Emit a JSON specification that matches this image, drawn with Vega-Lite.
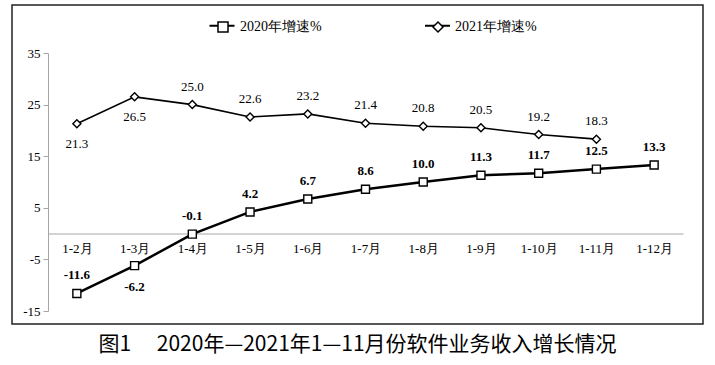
{
  "$schema": "https://vega.github.io/schema/vega-lite/v6.json",
  "width": 691,
  "height": 319,
  "padding": {"left": 12, "top": 5, "right": 5, "bottom": 2},
  "background": "white",
  "title": {"text": "图1　 2020年—2021年1—11月份软件业务收入增长情况", "orient": "bottom", "font": "Noto Sans CJK SC", "fontSize": 21, "fontWeight": "normal", "color": "#000", "offset": 10, "anchor": "middle"},
  "config": {
    "view": {"stroke": "#222", "strokeWidth": 1.5},
    "locale": {"number": {"decimal": ".", "thousands": ",", "grouping": [3], "currency": ["", ""], "minus": "-"}}
  },
  "data": {"values": [
    {"month": "1-2月", "series": "2020年增速%", "value": -11.6},
    {"month": "1-3月", "series": "2020年增速%", "value": -6.2},
    {"month": "1-4月", "series": "2020年增速%", "value": -0.1},
    {"month": "1-5月", "series": "2020年增速%", "value": 4.2},
    {"month": "1-6月", "series": "2020年增速%", "value": 6.7},
    {"month": "1-7月", "series": "2020年增速%", "value": 8.6},
    {"month": "1-8月", "series": "2020年增速%", "value": 10.0},
    {"month": "1-9月", "series": "2020年增速%", "value": 11.3},
    {"month": "1-10月", "series": "2020年增速%", "value": 11.7},
    {"month": "1-11月", "series": "2020年增速%", "value": 12.5},
    {"month": "1-12月", "series": "2020年增速%", "value": 13.3},
    {"month": "1-2月", "series": "2021年增速%", "value": 21.3},
    {"month": "1-3月", "series": "2021年增速%", "value": 26.5},
    {"month": "1-4月", "series": "2021年增速%", "value": 25.0},
    {"month": "1-5月", "series": "2021年增速%", "value": 22.6},
    {"month": "1-6月", "series": "2021年增速%", "value": 23.2},
    {"month": "1-7月", "series": "2021年增速%", "value": 21.4},
    {"month": "1-8月", "series": "2021年增速%", "value": 20.8},
    {"month": "1-9月", "series": "2021年增速%", "value": 20.5},
    {"month": "1-10月", "series": "2021年增速%", "value": 19.2},
    {"month": "1-11月", "series": "2021年增速%", "value": 18.3}
  ]},
  "encoding": {
    "x": {
      "field": "month", "type": "ordinal",
      "scale": {"type": "point", "domain": ["1-2月","1-3月","1-4月","1-5月","1-6月","1-7月","1-8月","1-9月","1-10月","1-11月","1-12月"], "range": [36, 671], "padding": 0.5},
      "axis": {"title": null, "orient": "bottom", "offset": -90.4, "ticks": false, "domainColor": "#c4c4c4", "domainWidth": 1.5, "labelFont": "Liberation Serif", "labelFontSize": 13, "labelColor": "#000", "labelPadding": 9, "labelAngle": 0}
    },
    "y": {
      "field": "value", "type": "quantitative",
      "scale": {"domain": [-15, 35], "range": [306, 48], "nice": false, "zero": false},
      "axis": {"title": null, "values": [-15, -5, 5, 15, 25, 35], "grid": false, "offset": -36, "domainColor": "#a6a6a6", "tickColor": "#a6a6a6", "tickSize": 5, "labelFont": "Liberation Serif", "labelFontSize": 13, "labelColor": "#000", "labelPadding": 3}
    }
  },
  "layer": [
    {
      "transform": [{"filter": "datum.series == '2020年增速%'"}],
      "mark": {"type": "line", "strokeWidth": 2.5},
      "encoding": {"color": {"field": "series", "type": "nominal", "scale": {"range": ["black", "black"]},
        "legend": {"orient": "none", "legendX": 196.5, "legendY": 7, "direction": "horizontal", "title": null, "zindex": 0,
          "symbolType": "stroke", "symbolSize": 625, "symbolStrokeWidth": 2, "symbolStrokeColor": "black",
          "labelFont": "Liberation Serif", "labelFontSize": 14, "labelColor": "#000", "labelOpacity": 0,
          "labelOffset": 2.5, "columnPadding": 100.5}}}
    },
    {
      "transform": [{"filter": "datum.series == '2021年增速%'"}],
      "mark": {"type": "line", "strokeWidth": 1.6},
      "encoding": {"color": {"field": "series", "type": "nominal"}}
    },
    {
      "mark": {"type": "point", "filled": true, "fill": "white", "stroke": "black", "strokeWidth": 1.4, "size": 64, "opacity": 1},
      "encoding": {
        "shape": {
          "field": "series", "type": "nominal",
          "scale": {"domain": ["2020年增速%", "2021年增速%"], "range": ["square", "diamond"]},
          "legend": {
            "orient": "none", "legendX": 204, "legendY": 15, "direction": "horizontal", "title": null, "zindex": 1,
            "labelFont": "Liberation Serif", "labelFontSize": 14, "labelColor": "#000",
            "labelOffset": 10, "columnPadding": 108
          }
        }
      }
    },
    {
      "transform": [{"filter": "datum.series == '2020年增速%' && datum.month != '1-3月'"}],
      "mark": {"type": "text", "font": "Liberation Serif", "fontSize": 13, "fontWeight": "bold", "color": "#000", "dy": -18, "baseline": "middle"},
      "encoding": {"text": {"field": "value", "type": "quantitative", "format": ".1f"}}
    },
    {
      "transform": [{"filter": "datum.series == '2020年增速%' && datum.month == '1-3月'"}],
      "mark": {"type": "text", "font": "Liberation Serif", "fontSize": 13, "fontWeight": "bold", "color": "#000", "dy": 21, "baseline": "middle"},
      "encoding": {"text": {"field": "value", "type": "quantitative", "format": ".1f"}}
    },
    {
      "transform": [{"filter": "datum.series == '2021年增速%' && datum.month != '1-2月' && datum.month != '1-3月'"}],
      "mark": {"type": "text", "font": "Liberation Serif", "fontSize": 13, "color": "#000", "dy": -18, "baseline": "middle"},
      "encoding": {"text": {"field": "value", "type": "quantitative", "format": ".1f"}}
    },
    {
      "transform": [{"filter": "datum.series == '2021年增速%' && (datum.month == '1-2月' || datum.month == '1-3月')"}],
      "mark": {"type": "text", "font": "Liberation Serif", "fontSize": 13, "color": "#000", "dy": 20, "baseline": "middle"},
      "encoding": {"text": {"field": "value", "type": "quantitative", "format": ".1f"}}
    }
  ]
}
